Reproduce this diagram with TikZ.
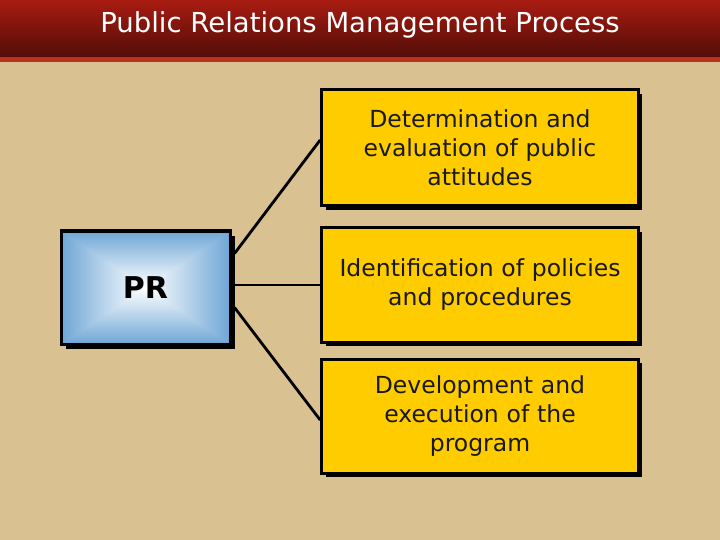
\documentclass[tikz,border=0pt]{standalone}
\usepackage{fontspec}
\setmainfont{DejaVu Sans}
\definecolor{tan}{HTML}{D9C192}
\definecolor{barTop}{HTML}{A81C12}
\definecolor{barBot}{HTML}{520D08}
\definecolor{strip}{HTML}{B8321E}
\definecolor{gold}{HTML}{FFCC00}
\definecolor{skyedge}{HTML}{6EA6D6}
\tikzset{
  goldbox/.style={draw=black, line width=3pt, fill=gold, minimum width=316pt, text width=310pt, align=center,
     font=\fontsize{23.5}{29}\selectfont, text=black!90},
  shadowbox/.style={fill=black},
  link/.style={draw=black, line width=2.8pt}
}
\begin{document}
\begin{tikzpicture}[x=1pt,y=-1pt]
\useasboundingbox (0,0) rectangle (720,540);
\fill[tan] (0,0) rectangle (720,540);
\shade[top color=barTop, bottom color=barBot] (0,0) rectangle (720,57);
\fill[strip] (0,57) rectangle (720,62);
\node[text=white, font=\fontsize{27.5}{32}\selectfont] (title) at (360,25) {Public Relations Management Process};
% PR box
\fill[shadowbox] (66,236) rectangle (235,349);
\shade[left color=skyedge, right color=white] (61,231) rectangle (145.5,344);
\shade[right color=skyedge, left color=white] (145.5,231) rectangle (230,344);
\shade[top color=skyedge, bottom color=white] (61,231) -- (230,231) -- (145.5,287.5) -- cycle;
\shade[bottom color=skyedge, top color=white] (61,344) -- (230,344) -- (145.5,287.5) -- cycle;
\node[draw=black, line width=3pt, minimum width=169pt, minimum height=113pt, font=\fontsize{30}{34}\selectfont\bfseries] (pr) at (145.5,287.5) {PR};
% gold boxes
\fill[shadowbox] (326,94) rectangle (642,210);
\node[goldbox, minimum height=116pt] (b1) at (480,148) {Determination and\\evaluation of public\\attitudes};
\fill[shadowbox] (326,232) rectangle (642,346);
\node[goldbox, minimum height=114pt] (b2) at (480,285) {Identification of policies\\and procedures};
\fill[shadowbox] (326,363) rectangle (642,477);
\node[goldbox, minimum height=114pt] (b3) at (480,416) {Development and\\execution of the\\program};
% connectors
\draw[link] ([shift={(3,-34)}]pr.east) -- ([shift={(0,-8)}]b1.west);
\draw[link] ([shift={(3,-2.5)}]pr.east) -- (b2.west);
\draw[link] ([shift={(3,20)}]pr.east) -- ([shift={(0,4)}]b3.west);
\end{tikzpicture}
\end{document}
